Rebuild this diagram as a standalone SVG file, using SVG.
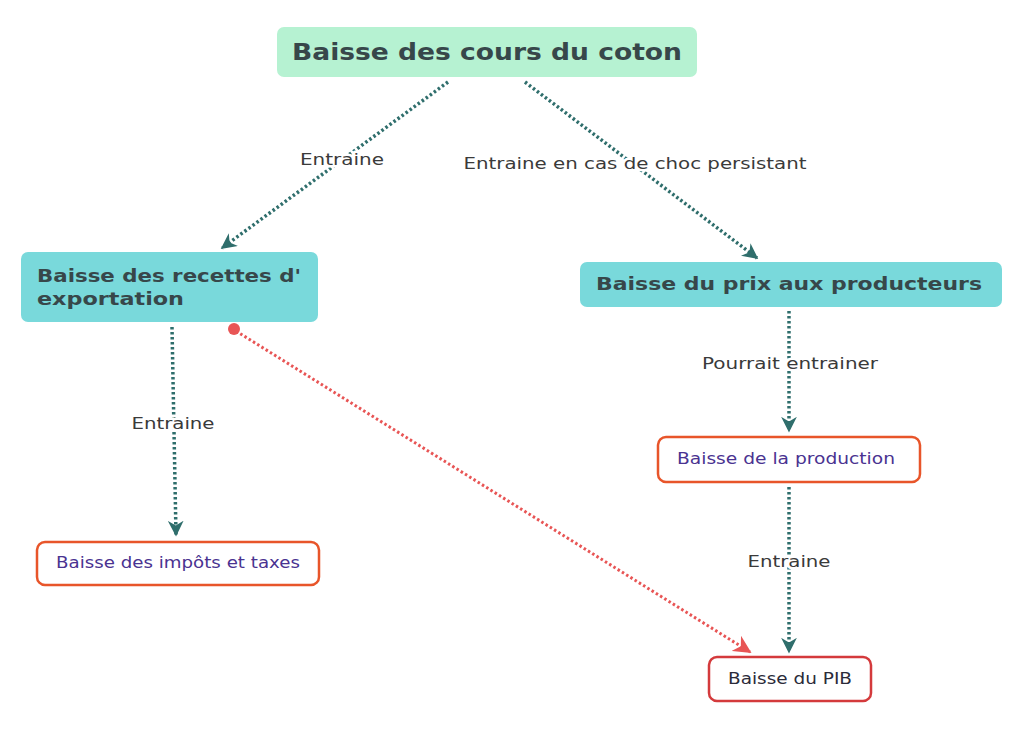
<svg xmlns="http://www.w3.org/2000/svg" width="1024" height="735" viewBox="0 0 1024 735">
<style>
.title{font-family:"DejaVu Sans","Liberation Sans",sans-serif;font-weight:bold;fill:#37474a}
.leaf{font-family:"DejaVu Sans","Liberation Sans",sans-serif;font-size:15px;fill:#4a3391}
.lbl{font-family:"DejaVu Sans","Liberation Sans",sans-serif;font-size:16px;fill:#3a3a3a;paint-order:stroke;stroke:#fff;stroke-width:5px;stroke-linejoin:round}
.tl{fill:none;stroke:#2f6e6c;stroke-width:3.5;stroke-dasharray:2.5 2.5}
.rl{fill:none;stroke:#e85555;stroke-width:3;stroke-dasharray:2.5 2.5}
</style>
<defs>
<marker id="at" viewBox="0 0 10 10" refX="9" refY="5" markerWidth="4.5" markerHeight="4.5" orient="auto" markerUnits="strokeWidth">
<path d="M0,0 L10,5 L0,10 L3,5 Z" fill="#2f6e6c"/>
</marker>
<marker id="ar" viewBox="0 0 10 10" refX="9" refY="5" markerWidth="6" markerHeight="6" orient="auto" markerUnits="strokeWidth">
<path d="M0,0 L10,5 L0,10 L3,5 Z" fill="#e85555"/>
</marker>
</defs>
<rect width="1024" height="735" fill="#fff"/>
<g id="connectors">
<line class="tl" x1="448" y1="82" x2="222" y2="248" marker-end="url(#at)"/>
<line class="tl" x1="525" y1="82" x2="757" y2="258" marker-end="url(#at)"/>
<line class="tl" x1="172" y1="327" x2="176" y2="535" marker-end="url(#at)"/>
<line class="tl" x1="789" y1="311" x2="789" y2="431" marker-end="url(#at)"/>
<line class="tl" x1="789" y1="487" x2="789" y2="652" marker-end="url(#at)"/>
<line class="rl" x1="236" y1="331" x2="750" y2="652" marker-end="url(#ar)"/>
<circle cx="234" cy="329" r="6" fill="#e85555"/>
<text class="lbl" x="342" y="165" text-anchor="middle" textLength="84" lengthAdjust="spacingAndGlyphs">Entraine</text>
<text class="lbl" x="635" y="169" text-anchor="middle" textLength="343" lengthAdjust="spacingAndGlyphs">Entraine en cas de choc persistant</text>
<text class="lbl" x="173" y="429" text-anchor="middle" textLength="83" lengthAdjust="spacingAndGlyphs">Entraine</text>
<text class="lbl" x="790" y="369" text-anchor="middle" textLength="176" lengthAdjust="spacingAndGlyphs">Pourrait entrainer</text>
<text class="lbl" x="789" y="567" text-anchor="middle" textLength="83" lengthAdjust="spacingAndGlyphs">Entraine</text>
</g>
<g id="n-cours">
<rect x="277" y="27" width="420" height="50" rx="7" fill="#b6f2d2"/>
<text class="title" x="487" y="60" font-size="23" text-anchor="middle" textLength="390" lengthAdjust="spacingAndGlyphs">Baisse des cours du coton</text>
</g>
<g id="n-recettes">
<rect x="21" y="252" width="297" height="70" rx="7" fill="#79d9db"/>
<text class="title" x="37" y="282" font-size="18" textLength="264" lengthAdjust="spacingAndGlyphs">Baisse des recettes d'</text>
<text class="title" x="37" y="305" font-size="18" textLength="147" lengthAdjust="spacingAndGlyphs">exportation</text>
</g>
<g id="n-prix">
<rect x="580" y="262" width="422" height="45" rx="7" fill="#79d9db"/>
<text class="title" x="789" y="290" font-size="18" text-anchor="middle" textLength="386" lengthAdjust="spacingAndGlyphs">Baisse du prix aux producteurs</text>
</g>
<g id="n-production">
<rect x="658" y="437" width="262" height="45" rx="8" fill="#fff" stroke="#e8552a" stroke-width="2.5"/>
<text class="leaf" x="786" y="464" text-anchor="middle" textLength="218" lengthAdjust="spacingAndGlyphs">Baisse de la production</text>
</g>
<g id="n-impots">
<rect x="37" y="542" width="282" height="43" rx="8" fill="#fff" stroke="#e8552a" stroke-width="2.5"/>
<text class="leaf" x="178" y="568" text-anchor="middle" textLength="244" lengthAdjust="spacingAndGlyphs">Baisse des impôts et taxes</text>
</g>
<g id="n-pib">
<rect x="709" y="657" width="162" height="44" rx="8" fill="#fff" stroke="#d43a3c" stroke-width="2.5"/>
<text class="leaf" x="790" y="684" text-anchor="middle" style="fill:#2b2b3a" textLength="124" lengthAdjust="spacingAndGlyphs">Baisse du PIB</text>
</g>
</svg>
